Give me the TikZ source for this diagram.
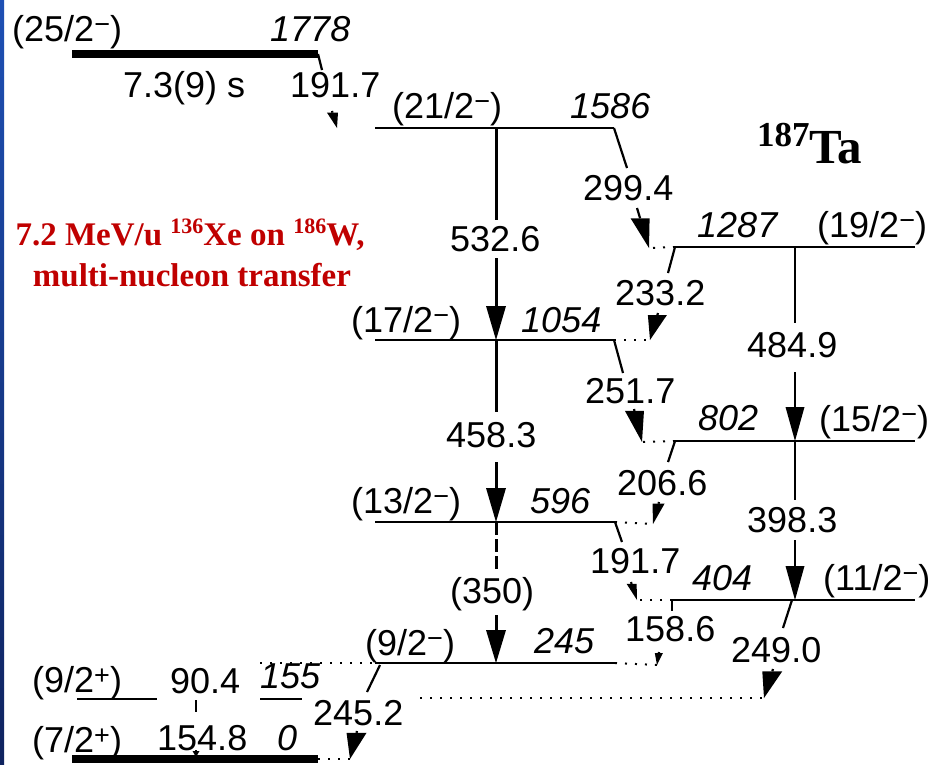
\documentclass[tikz,border=0pt]{standalone}
\usepackage{fontspec}
\setmainfont{Liberation Sans}
\newfontfamily\tnr{Liberation Serif}
\usetikzlibrary{calc}
\definecolor{redtxt}{RGB}{192,0,0}
\definecolor{bluetop}{RGB}{30,80,180}
\definecolor{bluebot}{RGB}{15,35,95}
\newcommand\spn[2]{(#1\raisebox{8pt}{\fontsize{27}{27}\selectfont #2})}
\newcommand\trans[5][]{%
  \draw[line width=2.2pt,#1] (#2) -- ($(#3)!#4!(#2)$);
  \fill ($(#3)!#4!(#2)$) ++(-#5/2,0) -- ++(#5,0) -- (#3) -- cycle;}
\begin{document}
\begin{tikzpicture}[x=1pt,y=-1pt,
  lvl/.style={line width=2.2pt},
  thk/.style={line width=8pt},
  tick/.style={line width=2.2pt},
  dts/.style={line width=2pt, dash pattern=on 2pt off 8pt},
  lab/.style={font=\fontsize{36}{40}\selectfont, inner sep=0pt, anchor=base west},
  elab/.style={lab, font=\fontsize{36}{40}\selectfont\itshape},
  red/.style={font=\fontsize{33}{36}\selectfont\tnr\bfseries, text=redtxt, inner sep=0pt, anchor=base}]
\fill[white] (0,0) rectangle (943,764);
\useasboundingbox (0,0) rectangle (943,764);
\shade[top color=bluetop, bottom color=bluebot] (0,0) rectangle (4,764);

% level coordinates
\coordinate (A0) at (72,54);   \coordinate (A1) at (318,54);
\coordinate (B0) at (375,128); \coordinate (B1) at (614,128);
\coordinate (C0) at (675,247); \coordinate (C1) at (915,247);
\coordinate (D0) at (375,340); \coordinate (D1) at (614,340);
\coordinate (E0) at (675,441); \coordinate (E1) at (915,441);
\coordinate (F0) at (375,522); \coordinate (F1) at (615,522);
\coordinate (G0) at (672,600); \coordinate (G1) at (915,600);
\coordinate (H0) at (375,663); \coordinate (H1) at (615,663);
\coordinate (I0) at (77,699);  \coordinate (I1) at (157,699);
\coordinate (I2) at (260,699); \coordinate (I3) at (302,699);
\coordinate (J0) at (72,759);  \coordinate (J1) at (318,759);

% levels
\draw[thk] (A0) -- (A1);
\draw[lvl] (B0) -- (B1);
\draw[lvl] (C0) -- (C1);
\draw[lvl] (D0) -- (D1);
\draw[lvl] (E0) -- (E1);
\draw[lvl] (F0) -- (F1);
\draw[lvl] (G0) -- (G1);
\draw[lvl] (H0) -- (H1);
\draw[lvl] (I0) -- (I1);
\draw[lvl] (I2) -- (I3);
\draw[thk] (J0) -- (J1);

% 191.7 (1778 -> 1586)
\coordinate (a1) at (322,70);
\coordinate (a1s) at (332,111); \coordinate (a1e) at (337,128);
\draw[tick] (A1) -- (a1);
\trans{a1s}{a1e}{16pt}{11}
% 532.6
\coordinate (b1) at (496,128); \coordinate (b2) at (496,220);
\coordinate (b3) at (496,258); \coordinate (b4) at (496,340);
\draw[line width=3pt] (b1) -- (b2);
\trans[line width=3pt]{b3}{b4}{34pt}{20}
% 299.4
\coordinate (c1) at (627,168);
\coordinate (c2) at (637,208); \coordinate (c3) at (649,248);
\draw[tick] (B1) -- (c1);
\trans{c2}{c3}{31pt}{19}
\draw[dts] (C0) -- (c3);
% 233.2
\coordinate (d1) at (668,273);
\coordinate (d2) at (658,313); \coordinate (d3) at (650,340);
\draw[tick] (C0) -- (d1);
\trans{d2}{d3}{26pt}{19}
\draw[dts] (D1) -- (d3);
% 484.9
\coordinate (e1) at (795,247); \coordinate (e2) at (795,323);
\coordinate (e3) at (795,372); \coordinate (e4) at (795,441);
\draw[lvl] (e1) -- (e2);
\trans{e3}{e4}{34pt}{19}
% 251.7
\coordinate (f1) at (623,373);
\coordinate (f2) at (634,409); \coordinate (f3) at (642,442);
\draw[tick] (D1) -- (f1);
\trans{f2}{f3}{32pt}{19}
\draw[dts] (E0) -- (f3);
% 458.3
\coordinate (g1) at (496,340); \coordinate (g2) at (496,412);
\coordinate (g3) at (496,462); \coordinate (g4) at (496,522);
\draw[line width=3pt] (g1) -- (g2);
\trans[line width=3pt]{g3}{g4}{34pt}{20}
% 206.6
\coordinate (h1) at (668,462);
\coordinate (h2) at (659,502); \coordinate (h3) at (653,524);
\draw[tick] (E0) -- (h1);
\trans{h2}{h3}{21pt}{12}
\draw[dts] (F1) -- (h3);
% 398.3
\coordinate (i1) at (795,441); \coordinate (i2) at (795,500);
\coordinate (i3) at (795,540); \coordinate (i4) at (795,600);
\draw[lvl] (i1) -- (i2);
\trans{i3}{i4}{34pt}{19}
% 191.7 (596 -> 404)
\coordinate (j1) at (622,542);
\coordinate (j2) at (631,582); \coordinate (j3) at (637,600);
\draw[tick] (F1) -- (j1);
\trans{j2}{j3}{17pt}{10}
\draw[dts] (G0) -- (j3);
% (350)
\coordinate (k1) at (496,522); \coordinate (k2) at (496,572);
\coordinate (k3) at (496,615); \coordinate (k4) at (496,663);
\draw[line width=3pt, dash pattern=on 13pt off 4pt] (k1) -- (k2);
\trans[line width=3pt]{k3}{k4}{33pt}{20}
% 158.6
\coordinate (l1) at (672,611);
\coordinate (l2) at (659,652); \coordinate (l3) at (657,665);
\draw[tick] (G0) -- (l1);
\trans{l2}{l3}{12pt}{8}
\draw[dts] (H1) -- (l3);
% 249.0
\coordinate (m0) at (792,600); \coordinate (m1) at (783,628);
\coordinate (m2) at (773,669); \coordinate (m3) at (764,698);
\coordinate (m4) at (420,698);
\draw[tick] (m0) -- (m1);
\trans{m2}{m3}{28pt}{20}
\draw[dts] (m4) -- (m3);
% 245.2
\coordinate (n0) at (380,665); \coordinate (n1) at (367,692);
\coordinate (n2) at (357,731); \coordinate (n3) at (350,759);
\draw[tick] (n0) -- (n1);
\trans{n2}{n3}{27pt}{20}
\draw[dts] (J1) -- (n3);
% 90.4
\coordinate (o1) at (260,663);
\draw[dts] (o1) -- (H0);
% 154.8
\coordinate (p1) at (196,700); \coordinate (p2) at (196,712);
\coordinate (p3) at (196,750); \coordinate (p4) at (196,757);
\draw[tick] (p1) -- (p2);
\trans{p3}{p4}{6pt}{7}

% labels
\node[lab]  (s2512) at (12,41) {\spn{25/2}{−}};
\node[elab] (e1778) at (270,41) {1778};
\node[lab]  (hl)    at (123,97) {7.3(9) s};
\node[lab]  (g1917a) at (290,97) {191.7};
\node[lab]  (s2112) at (392,118) {\spn{21/2}{−}};
\node[elab] (e1586) at (570,118) {1586};
\node[inner sep=0pt, anchor=base west, font=\tnr\bfseries] (nuc) at (757,163)
  {\raisebox{17pt}{\fontsize{35}{35}\selectfont 187}\fontsize{49}{52}\selectfont Ta};
\node[lab]  (g2994) at (583,200) {299.4};
\node[lab]  (g5326) at (450,251) {532.6};
\node[elab] (e1287) at (697,237) {1287};
\node[lab]  (s1912) at (817,237) {\spn{19/2}{−}};
\node[lab]  (g2332) at (615,305) {233.2};
\node[lab]  (s1712) at (351,332) {\spn{17/2}{−}};
\node[elab] (e1054) at (521,332) {1054};
\node[lab]  (g4849) at (747,357) {484.9};
\node[lab]  (g2517) at (585,403) {251.7};
\node[lab]  (g4583) at (446,447) {458.3};
\node[elab] (e802)  at (698,430) {802};
\node[lab]  (s1512) at (819,431) {\spn{15/2}{−}};
\node[lab]  (g2066) at (617,495) {206.6};
\node[lab]  (s1312) at (351,513) {\spn{13/2}{−}};
\node[elab] (e596)  at (530,513) {596};
\node[lab]  (g3983) at (747,532) {398.3};
\node[lab]  (g1917b) at (590,573) {191.7};
\node[elab] (e404)  at (692,590) {404};
\node[lab]  (s1112) at (823,590) {\spn{11/2}{−}};
\node[lab]  (g350)  at (450,603) {(350)};
\node[lab]  (s92m)  at (365,655) {\spn{9/2}{−}};
\node[elab] (e245)  at (534,653) {245};
\node[lab]  (g1586) at (625,641) {158.6};
\node[lab]  (g2490) at (731,662) {249.0};
\node[lab]  (s92p)  at (32,692) {\spn{9/2}{+}};
\node[lab]  (g904)  at (170,693) {90.4};
\node[elab] (e155)  at (260,688) {155};
\node[lab]  (g2452) at (313,725) {245.2};
\node[lab]  (s72p)  at (32,752) {\spn{7/2}{+}};
\node[lab]  (g1548) at (157,750) {154.8};
\node[elab] (e0)    at (277,750) {0};

\node[red] (r1) at (190,245) {7.2 MeV/u \raisebox{12pt}{\fontsize{22}{22}\selectfont 136}Xe on \raisebox{12pt}{\fontsize{22}{22}\selectfont 186}W,};
\node[red] (r2) at (192,286) {multi-nucleon transfer};
\end{tikzpicture}
\end{document}
